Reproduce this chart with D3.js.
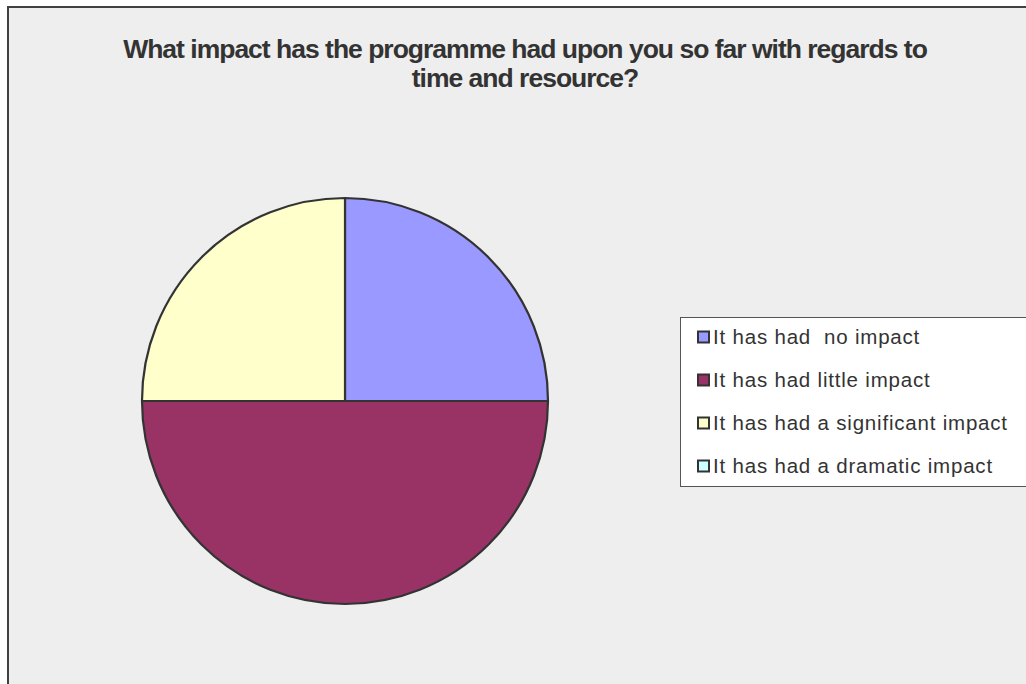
<!DOCTYPE html>
<html>
<head>
<meta charset="utf-8">
<script src="https://cdn.jsdelivr.net/npm/d3@7"></script>
<style>
  html, body { margin: 0; padding: 0; background: #ffffff; }
  svg { display: block; }
  text { white-space: pre; }
</style>
</head>
<body>
<svg id="chart" width="1026" height="684"></svg>
<script>
// Survey responses
const categories = [
  "It has had  no impact",
  "It has had little impact",
  "It has had a significant impact",
  "It has had a dramatic impact"
];
const responses = [1, 2, 1, 0];
const colors = ["#9999ff", "#993366", "#ffffcc", "#ccffff"];
const titleLines = [
  "What impact has the programme had upon you so far with regards to",
  "time and resource?"
];

const data = categories.map((c, i) => ({ label: c, value: responses[i], color: colors[i] }));

const svg = d3.select("#chart");

// chart area frame
svg.append("rect")
  .attr("x", 8).attr("y", 7)
  .attr("width", 1040).attr("height", 700)
  .attr("fill", "#eeeeee")
  .attr("stroke", "#404040")
  .attr("stroke-width", 2);

// title
const title = svg.append("text")
  .attr("text-anchor", "middle")
  .attr("font-family", "'Liberation Sans', Arial, sans-serif")
  .attr("font-weight", "bold")
  .attr("font-size", 26.5)
  .attr("fill", "#333333");
title.selectAll("tspan")
  .data(titleLines)
  .join("tspan")
  .attr("x", 525)
  .attr("y", (d, i) => 58 + i * 29)
  .attr("letter-spacing", -1.0)
  .text(d => d);

// pie
const cx = 345, cy = 401, radius = 203;
const pie = d3.pie().sort(null).value(d => d.value);
const arc = d3.arc().innerRadius(0).outerRadius(radius);

svg.append("g")
  .attr("transform", `translate(${cx},${cy})`)
  .selectAll("path")
  .data(pie(data).filter(d => d.value > 0))
  .join("path")
  .attr("d", arc)
  .attr("fill", d => d.data.color)
  .attr("stroke", "#333333")
  .attr("stroke-width", 2.2)
  .attr("stroke-linejoin", "round");

// legend
const legend = svg.append("g");
legend.append("rect")
  .attr("x", 680.5).attr("y", 317.5)
  .attr("width", 360).attr("height", 169)
  .attr("fill", "#ffffff")
  .attr("stroke", "#555555")
  .attr("stroke-width", 1);

const rowY = d3.scalePoint()
  .domain(categories)
  .range([337, 466]);

const items = legend.selectAll("g.item")
  .data(data)
  .join("g")
  .attr("class", "item")
  .attr("transform", d => `translate(0,${rowY(d.label)})`);

items.append("rect")
  .attr("x", 698).attr("y", -5.5)
  .attr("width", 11).attr("height", 11)
  .attr("fill", d => d.color)
  .attr("stroke", "#333333")
  .attr("stroke-width", 2);

items.append("text")
  .attr("x", 713)
  .attr("y", 7)
  .attr("font-family", "'Liberation Sans', Arial, sans-serif")
  .attr("font-size", 20.5)
  .attr("letter-spacing", 0.8)
  .attr("fill", "#333333")
  .text(d => d.label);
</script>
</body>
</html>
